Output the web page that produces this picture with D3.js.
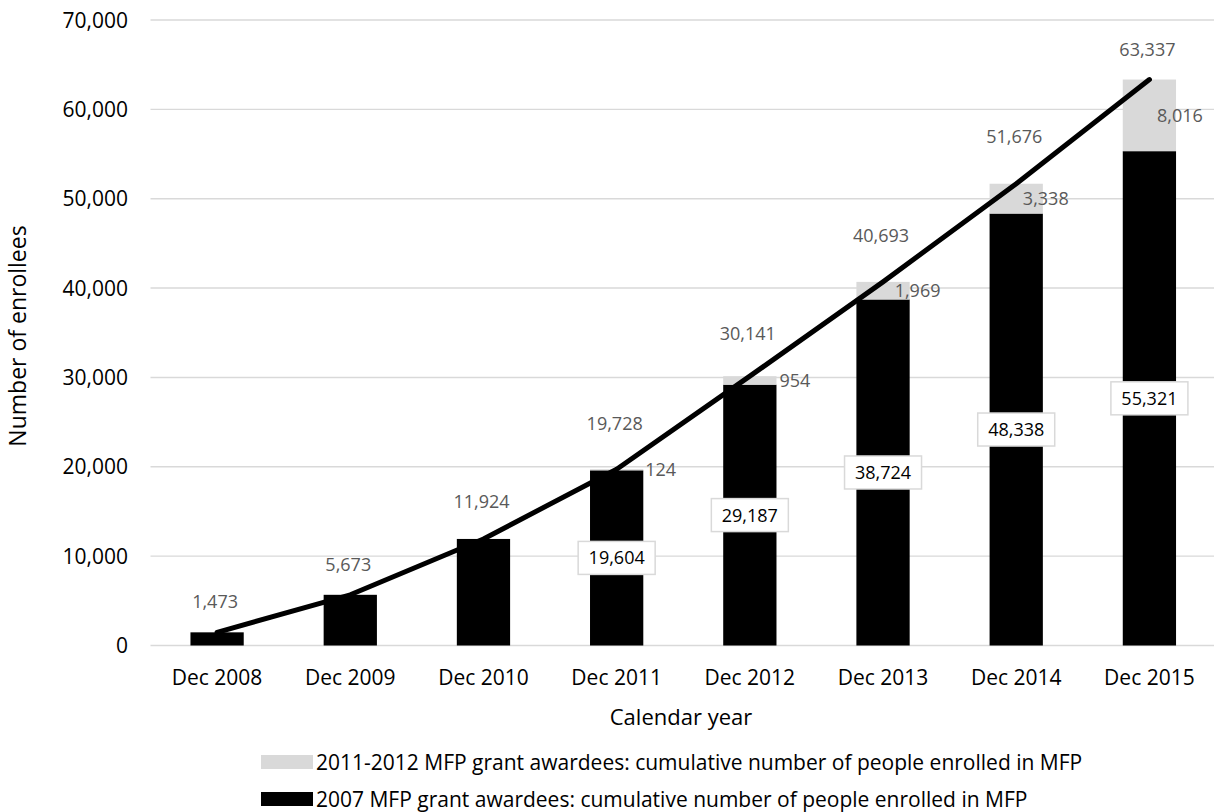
<!DOCTYPE html>
<html>
<head>
<meta charset="utf-8">
<script src="https://cdn.jsdelivr.net/npm/d3@7"></script>
<style>
  html, body { margin: 0; padding: 0; background: #fff; }
  svg { display: block; font-family: "Open Sans", "Noto Sans", sans-serif; }
</style>
</head>
<body>
<svg id="chart" width="1214" height="812"></svg>
<script>
// Enrollment by calendar year
const categories = ["Dec 2008", "Dec 2009", "Dec 2010", "Dec 2011", "Dec 2012", "Dec 2013", "Dec 2014", "Dec 2015"];
const awardees2007 = [1473, 5673, 11924, 19604, 29187, 38724, 48338, 55321];
const awardees2011 = [0, 0, 0, 124, 954, 1969, 3338, 8016];
const totals = [1473, 5673, 11924, 19728, 30141, 40693, 51676, 63337];
const yTicks = [0, 10000, 20000, 30000, 40000, 50000, 60000, 70000];
const legendLabels = [
  "2011-2012 MFP grant awardees: cumulative number of people enrolled in MFP",
  "2007 MFP grant awardees: cumulative number of people enrolled in MFP"
];

// label placement tweaks (pixels)
const totalLabelLift = [31, 30, 37, 46, 43, 46, 47, 30];
const grayLabelDx = [0, 0, 0, 2, 3, -15, -20, -19];

const svg = d3.select("#chart");
const W = 1214, H = 812;
const plot = { left: 150.5, right: 1216, top: 20, bottom: 645.5 };

const x = d3.scaleBand()
  .domain(categories)
  .range([plot.left, plot.right])
  .paddingInner(0.6)
  .paddingOuter(0.3);

const y = d3.scaleLinear()
  .domain([0, 70000])
  .range([plot.bottom, plot.top]);

const fmt = d3.format(",");
const cx = d => x(d) + x.bandwidth() / 2;

// gridlines
svg.append("g")
  .selectAll("line")
  .data(yTicks)
  .join("line")
  .attr("x1", plot.left).attr("x2", W)
  .attr("y1", d => y(d)).attr("y2", d => y(d))
  .attr("stroke", "#d9d9d9")
  .attr("stroke-width", 1.4);

// y tick labels
svg.append("g")
  .selectAll("text")
  .data(yTicks)
  .join("text")
  .attr("x", 128)
  .attr("y", d => y(d))
  .attr("dy", "0.36em")
  .attr("text-anchor", "end")
  .attr("font-size", 21)
  .attr("fill", "#000")
  .text(d => fmt(d));

// x category labels
svg.append("g")
  .selectAll("text")
  .data(categories)
  .join("text")
  .attr("x", d => cx(d))
  .attr("y", 677)
  .attr("dy", "0.36em")
  .attr("text-anchor", "middle")
  .attr("font-size", 21)
  .attr("fill", "#000")
  .text(d => d);

// axis titles
svg.append("text")
  .attr("x", 681).attr("y", 717).attr("dy", "0.36em")
  .attr("text-anchor", "middle")
  .attr("font-size", 22)
  .attr("fill", "#000")
  .text("Calendar year");

svg.append("text")
  .attr("transform", "translate(18,336) rotate(-90)")
  .attr("dy", "0.36em")
  .attr("text-anchor", "middle")
  .attr("font-size", 23)
  .attr("fill", "#000")
  .text("Number of enrollees");

// stacked bars
const rows = categories.map((c, i) => ({ c, i, a: awardees2007[i], b: awardees2011[i] }));

svg.append("g")
  .selectAll("rect")
  .data(rows)
  .join("rect")
  .attr("x", d => x(d.c))
  .attr("width", x.bandwidth())
  .attr("y", d => y(d.a))
  .attr("height", d => y(0) - y(d.a))
  .attr("fill", "#000");

svg.append("g")
  .selectAll("rect")
  .data(rows.filter(d => d.b > 0))
  .join("rect")
  .attr("x", d => x(d.c))
  .attr("width", x.bandwidth())
  .attr("y", d => y(d.a + d.b))
  .attr("height", d => y(d.a) - y(d.a + d.b))
  .attr("fill", "#d9d9d9");

// total trend line
const line = d3.line()
  .x((d, i) => cx(categories[i]))
  .y(d => y(d));

svg.append("path")
  .datum(totals)
  .attr("d", line)
  .attr("fill", "none")
  .attr("stroke", "#000")
  .attr("stroke-width", 5)
  .attr("stroke-linecap", "round")
  .attr("stroke-linejoin", "round");

// total labels
svg.append("g")
  .selectAll("text")
  .data(totals)
  .join("text")
  .attr("x", (d, i) => cx(categories[i]) - 2)
  .attr("y", (d, i) => y(d) - totalLabelLift[i])
  .attr("dy", "0.36em")
  .attr("text-anchor", "middle")
  .attr("font-size", 18)
  .attr("fill", "#595959")
  .text(d => fmt(d));

// 2011-2012 segment labels
svg.append("g")
  .selectAll("text")
  .data(rows.filter(d => d.b > 0))
  .join("text")
  .attr("x", d => x(d.c) + x.bandwidth() + grayLabelDx[d.i])
  .attr("y", d => (y(d.a) + y(d.a + d.b)) / 2)
  .attr("dy", "0.36em")
  .attr("text-anchor", "start")
  .attr("font-size", 18)
  .attr("fill", "#595959")
  .text(d => fmt(d.b));

// boxed 2007 segment labels
const boxed = svg.append("g")
  .selectAll("g")
  .data(rows.filter(d => d.b > 0))
  .join("g")
  .attr("transform", d => `translate(${cx(d.c)},${(y(0) + y(d.a)) / 2})`);

boxed.append("rect")
  .attr("x", -38.5).attr("y", -16.5)
  .attr("width", 77).attr("height", 33)
  .attr("fill", "#fff")
  .attr("stroke", "#d9d9d9")
  .attr("stroke-width", 1.5);

boxed.append("text")
  .attr("dy", "0.36em")
  .attr("text-anchor", "middle")
  .attr("font-size", 18)
  .attr("fill", "#000")
  .text(d => fmt(d.a));

// legend
const legendRows = [
  { label: legendLabels[0], color: "#d9d9d9", yc: 762 },
  { label: legendLabels[1], color: "#000", yc: 799 }
];
const lg = svg.append("g")
  .selectAll("g")
  .data(legendRows)
  .join("g")
  .attr("transform", d => `translate(261,${d.yc})`);

lg.append("rect")
  .attr("x", 0).attr("y", -7)
  .attr("width", 52).attr("height", 14)
  .attr("fill", d => d.color);

lg.append("text")
  .attr("x", 55)
  .attr("dy", "0.36em")
  .attr("font-size", 21)
  .attr("fill", "#000")
  .text(d => d.label);
</script>
</body>
</html>
